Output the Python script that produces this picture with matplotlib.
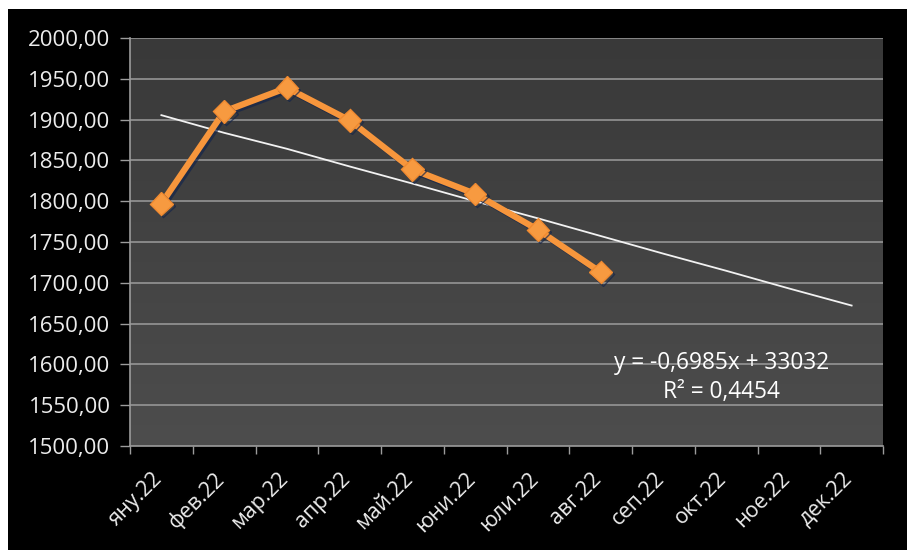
import numpy as np
import matplotlib
matplotlib.use("Agg")
import matplotlib.pyplot as plt
import matplotlib.patheffects as pe
import matplotlib.transforms as mtransforms
from matplotlib.patches import Rectangle

# monthly values, Jan-Aug 2022
months = ['яну.22', 'фев.22', 'мар.22', 'апр.22', 'май.22', 'юни.22',
          'юли.22', 'авг.22', 'сеп.22', 'окт.22', 'ное.22', 'дек.22']
values = [1797, 1910, 1939, 1899, 1839, 1809, 1765, 1713]

# Excel date serials of the first day of each month (x for the trend equation)
month_serials = [44562, 44593, 44621, 44652, 44682, 44713,
                 44743, 44774, 44805, 44835, 44866, 44896]
slope = -0.6985
intercept = 33032
r_squared = 0.4454

y_ticks = np.arange(1500, 2001, 50)


def comma(v, digits):
    return f'{v:.{digits}f}'.replace('.', ',')


plt.rcParams['font.family'] = ['Open Sans', 'DejaVu Sans']

fig = plt.figure(figsize=(9.07, 5.5), dpi=100, facecolor='white')
fig.patches.append(Rectangle((8 / 907, 0), 1, 1 - 9 / 550, transform=fig.transFigure,
                             facecolor='black', edgecolor='none', zorder=-10))

ax = fig.add_axes([130 / 907, 1 - 446 / 550, 753 / 907, 408 / 550])
ax.set_facecolor('#3f3f3f')

n = len(months)
x = np.arange(len(values))
ax.set_xlim(-0.5, n - 0.5)
ax.set_ylim(1500, 2000)

# soft vertical gradient in the plot area
grad = np.linspace(0, 1, 256).reshape(-1, 1)
ax.imshow(grad, extent=(-0.5, n - 0.5, 1500, 2000), aspect='auto',
          cmap=matplotlib.colors.LinearSegmentedColormap.from_list('bg', ['#4d4d4d', '#393939']),
          origin='lower', zorder=0)

for yv in y_ticks[1:]:
    ax.axhline(yv, color='#9c9c9c', lw=1.1, zorder=1)

# trend line from the fitted equation
trend = [slope * s + intercept for s in month_serials]
ax.plot(np.arange(n), trend, color='#f2f2f2', lw=1.3, zorder=2)

ax.plot(x, values, color='#f7963c', lw=4.5, marker='D', markersize=11.5,
        markerfacecolor='#f79a40', markeredgecolor='#f08a30', zorder=3,
        path_effects=[pe.SimpleLineShadow(offset=(1.5, -1.5), shadow_color='#15254a', alpha=0.7),
                      pe.Normal()])

eq = f'y = {comma(slope, 4)}x + {intercept}\nR² = {comma(r_squared, 4)}'
ax.text(8.93, 1584, eq, color='white', fontsize=16.3, ha='center', va='center',
        linespacing=1.25, zorder=4)

ax.set_yticks(y_ticks)
ax.set_yticklabels([comma(v, 2) for v in y_ticks])
ax.set_xticks(np.arange(n))
ax.set_xticklabels(months, rotation=45, ha='right', va='top')
ax.set_xticks(np.arange(n + 1) - 0.5, minor=True)

ax.tick_params(axis='y', colors='#ececec', labelsize=16, length=7, width=1, color='#9c9c9c', pad=7)
ax.tick_params(axis='x', which='major', colors='#ececec', labelsize=15.5, length=0, pad=16)
ax.tick_params(axis='x', which='minor', length=6, width=1, color='#9c9c9c')

# nudge month labels a few pixels right
shift = mtransforms.ScaledTranslation(5 / 100, 0, fig.dpi_scale_trans)
for lbl in ax.get_xticklabels():
    lbl.set_transform(lbl.get_transform() + shift)

for side in ['top', 'right']:
    ax.spines[side].set_visible(False)
ax.spines['left'].set_color('#9c9c9c')
ax.spines['bottom'].set_color('#9c9c9c')
ax.spines['left'].set_linewidth(1.2)
ax.spines['bottom'].set_linewidth(1.2)

fig.savefig('out.png', dpi=100, facecolor=fig.get_facecolor())
